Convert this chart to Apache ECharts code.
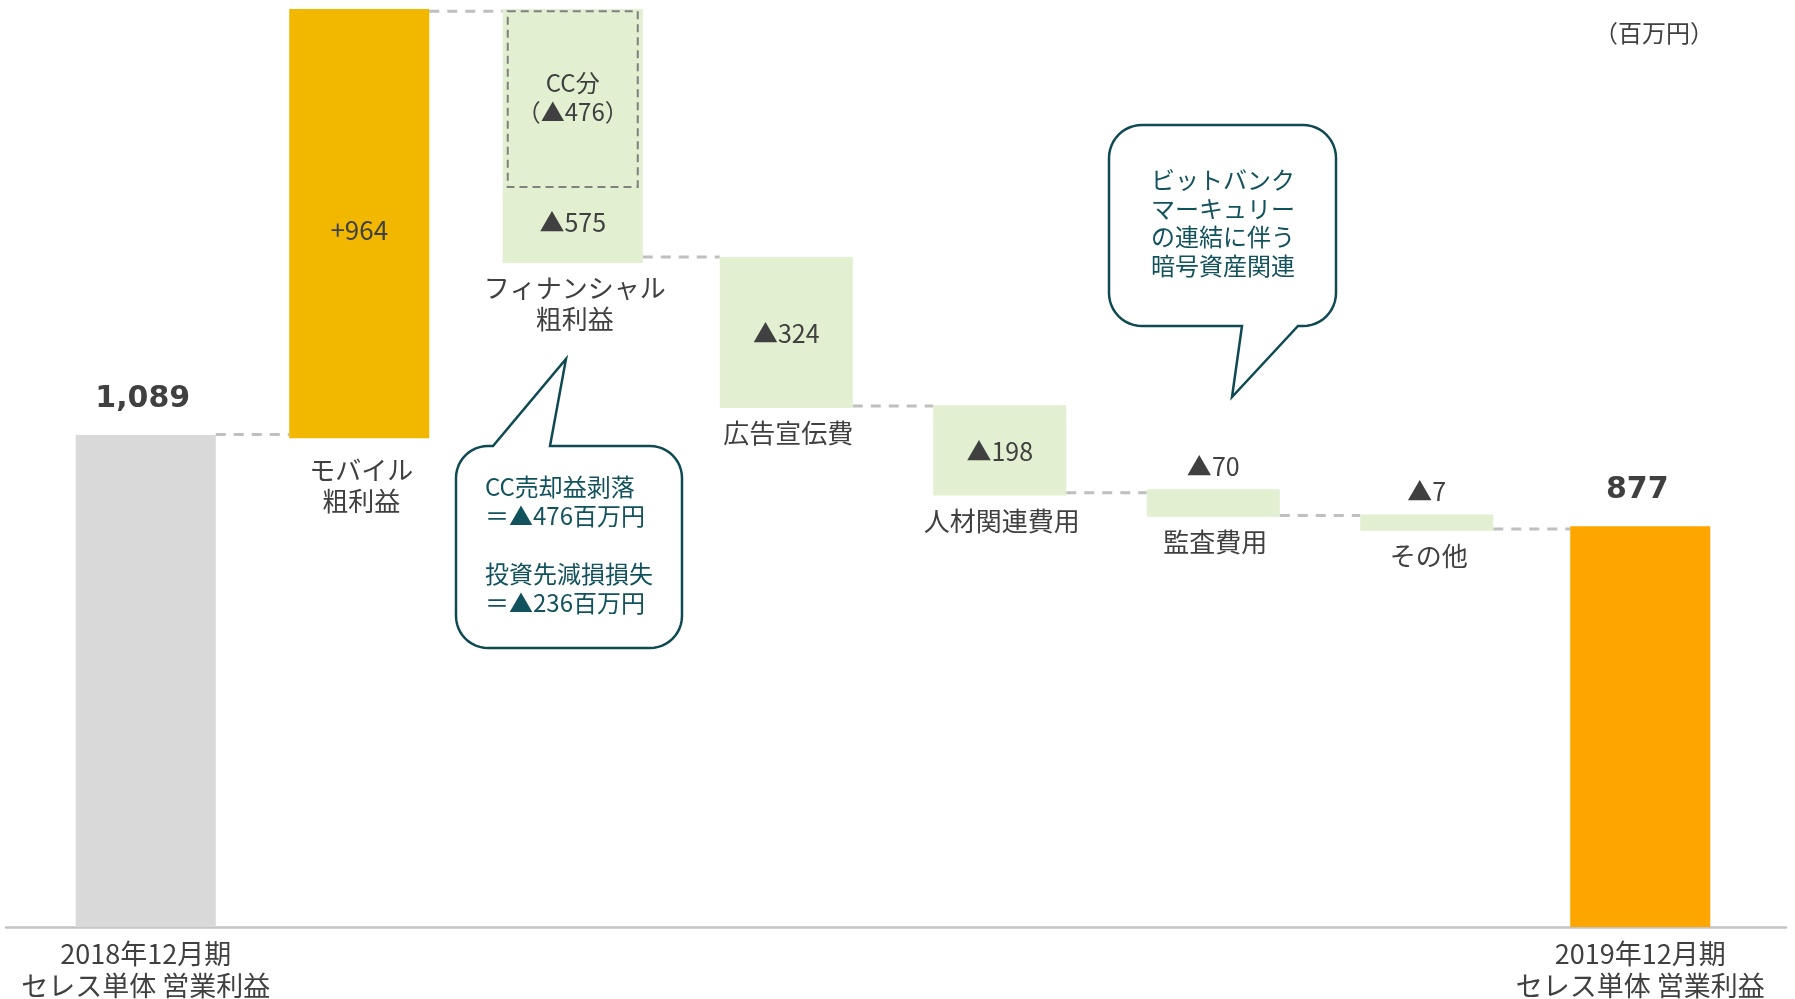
<!DOCTYPE html>
<html><head><meta charset="utf-8">
<script src="https://cdn.jsdelivr.net/npm/echarts@6/dist/echarts.min.js"></script>
<style>html,body{margin:0;padding:0;background:#fff}#c{width:1795px;height:999px}</style>
</head><body><div id="c"></div>
<script>
// ---- data (百万円) ----
const categories = ['2018年12月期\nセレス単体 営業利益', 'モバイル\n粗利益', 'フィナンシャル\n粗利益', '広告宣伝費', '人材関連費用', '監査費用', 'その他', '2019年12月期\nセレス単体 営業利益'];
const valueLabels = ['1,089', '+964', '▲575', '▲324', '▲198', '▲70', '▲7', '877'];
const barLow  = [0, 1082, 1470, 1149, 955, 908, 877, 0];
const barHigh = [1089, 2032, 2032, 1483, 1155, 969, 913, 887];
const connectorLevels = [1090, 2027, 1483, 1153, 961, 911, 881];
const ccBoxRange = [1638, 2027];
const ccBoxText = 'CC分\n（▲476）';
const unitText = '（百万円）';
const note1Lines = ['CC売却益剥落', '＝▲476百万円', '', '投資先減損損失', '＝▲236百万円'];
const note2Lines = ['ビットバンク', 'マーキュリー', 'の連結に伴う', '暗号資産関連'];

// ---- styles ----
const barColors = ['#D9D9D9', '#F2B800', '#E2EFD0', '#E2EFD0', '#E2EFD0', '#E2EFD0', '#E2EFD0', '#FFA500'];
const labelMode = ['bold', 'mid', 'low', 'mid', 'mid', 'above', 'above', 'bold'];
const narrowIdx = [3, 4, 5, 6];
const TXT = '#404040';
const JP = '"Noto Sans CJK JP", sans-serif';
const NOTE = '#12525C';
const STROKE = '#0F4A53';

const seriesData = categories.map((c, i) => [i, barLow[i], barHigh[i]]);

function widthFor(i, band) { return band * (narrowIdx.includes(i) ? 0.623 : 0.656); }

function renderItem(params, api) {
  const i = api.value(0);
  const lo = api.coord([i, api.value(1)]);
  const hi = api.coord([i, api.value(2)]);
  const band = api.size([1, 0])[0];
  const w = widthFor(i, band);
  const cx = lo[0], top = hi[1], bottom = lo[1];
  const kids = [];
  if (i < connectorLevels.length) {
    const p = api.coord([i, connectorLevels[i]]);
    const q = api.coord([i + 1, connectorLevels[i]]);
    kids.push({type: 'line', shape: {x1: p[0] + w / 2, y1: p[1], x2: q[0] - widthFor(i + 1, band) / 2, y2: q[1]},
      style: {stroke: '#BFBFBF', lineWidth: 3, lineDash: [10, 8]}});
  }
  kids.push({type: 'rect', shape: {x: cx - w / 2, y: top, width: w, height: bottom - top}, style: {fill: barColors[i]}});
  if (i === 2) {
    const b1 = api.coord([i, ccBoxRange[1]]), b0 = api.coord([i, ccBoxRange[0]]);
    kids.push({type: 'rect', shape: {x: cx - 65, y: b1[1], width: 130, height: b0[1] - b1[1]},
      style: {fill: 'none', stroke: '#808080', lineWidth: 2, lineDash: [8, 5]}});
    kids.push({type: 'text', x: cx, y: (b1[1] + b0[1]) / 2 - 2,
      style: {text: ccBoxText, fill: TXT, font: '24px ' + JP, lineHeight: 29, align: 'center', verticalAlign: 'middle'}});
  }
  const m = labelMode[i];
  let ly, font = '25px ' + JP;
  if (m === 'bold') { ly = top - 36; font = 'bold 30px "DejaVu Sans", sans-serif'; }
  else if (m === 'mid') { ly = (top + bottom) / 2 + (i === 1 ? 7 : 1); if (i === 1) font = '26px ' + JP; }
  else if (m === 'low') { ly = bottom - 40; }
  else { ly = top - 23; }
  kids.push({type: 'text', x: cx - (m === 'bold' ? 3 : 0), y: ly,
    style: {text: valueLabels[i], fill: TXT, font: font, align: 'center', verticalAlign: 'middle'}});
  if (i > 0 && i < categories.length - 1) {
    kids.push({type: 'text', x: cx + 2, y: bottom + (i === 1 ? 16 : 10),
      style: {text: categories[i], fill: TXT, font: '26px ' + JP, lineHeight: 31, align: 'center', verticalAlign: 'top'}});
  }
  return {type: 'group', children: kids};
}

// speech bubble outline as polygon points (rounded corners sampled)
function bubblePoints(x1, y1, x2, y2, r, tail) {
  const pts = [];
  const arc = (cx, cy, a0, a1) => {
    const n = 12;
    for (let k = 0; k <= n; k++) {
      const a = a0 + (a1 - a0) * k / n;
      pts.push([cx + r * Math.cos(a), cy + r * Math.sin(a)]);
    }
  };
  const P = Math.PI;
  arc(x1 + r, y1 + r, P, 1.5 * P);
  if (tail.side === 'top') { pts.push([tail.a, y1], [tail.tx, tail.ty], [tail.b, y1]); }
  arc(x2 - r, y1 + r, 1.5 * P, 2 * P);
  arc(x2 - r, y2 - r, 0, 0.5 * P);
  if (tail.side === 'bottom') { pts.push([tail.b, y2], [tail.tx, tail.ty], [tail.a, y2]); }
  arc(x1 + r, y2 - r, 0.5 * P, P);
  return pts;
}

const chart = echarts.init(document.getElementById('c'), null, {renderer: 'canvas'});
chart.setOption({
  animation: false,
  backgroundColor: '#ffffff',
  grid: [
    {left: 39, right: 48, top: 9, bottom: 72, containLabel: false, outerBoundsMode: 'none'},
    {left: 6, right: 9, top: 9, bottom: 72, containLabel: false, outerBoundsMode: 'none'}
  ],
  xAxis: [
    {type: 'category', gridIndex: 0, data: categories,
      axisLine: {show: false}, axisTick: {show: false},
      axisLabel: {interval: 0, margin: 11, color: TXT, fontFamily: JP, fontSize: 27, lineHeight: 32,
        formatter: (v, idx) => (idx === 0 || idx === categories.length - 1) ? v : ''}},
    {type: 'value', gridIndex: 1, min: 0, max: 1,
      axisLine: {show: true, onZero: false, lineStyle: {color: '#C4C4C4', width: 2.5}},
      axisTick: {show: false}, axisLabel: {show: false}, splitLine: {show: false}}
  ],
  yAxis: [
    {type: 'value', gridIndex: 0, min: 0, max: 2032, show: false},
    {type: 'value', gridIndex: 1, min: 0, max: 1, show: false}
  ],
  series: [{
    type: 'custom', xAxisIndex: 0, yAxisIndex: 0,
    renderItem: renderItem,
    encode: {x: 0, y: [1, 2]},
    data: seriesData,
    clip: false
  }],
  graphic: [
    {type: 'text', x: 1654, y: 33, style: {text: unitText, fill: TXT, font: '24px ' + JP, textAlign: 'center', textVerticalAlign: 'middle'}},
    {type: 'polygon', shape: {points: bubblePoints(456, 446, 682, 648, 32, {side: 'top', a: 493, b: 550, tx: 566, ty: 359})},
      style: {fill: '#ffffff', stroke: STROKE, lineWidth: 2.5}},
    {type: 'text', x: 485, y: 472.5, style: {text: note1Lines.join('\n'), fill: NOTE, font: '24px ' + JP, lineHeight: 29, textAlign: 'left', textVerticalAlign: 'top'}},
    {type: 'polygon', shape: {points: bubblePoints(1109, 125, 1336, 326, 33, {side: 'bottom', a: 1242, b: 1298, tx: 1232, ty: 397})},
      style: {fill: '#ffffff', stroke: STROKE, lineWidth: 2.5}},
    {type: 'text', x: 1151, y: 165.6, style: {text: note2Lines.join('\n'), fill: NOTE, font: '24px ' + JP, lineHeight: 28.7, textAlign: 'left', textVerticalAlign: 'top'}}
  ]
});
</script></body></html>
